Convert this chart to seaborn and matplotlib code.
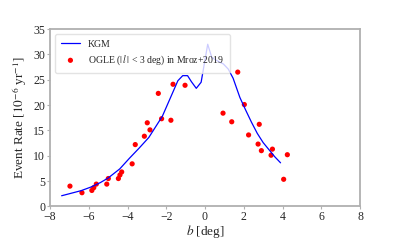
import matplotlib
matplotlib.use("Agg")
import matplotlib.pyplot as plt
import seaborn as sns
import pandas as pd

# KGM model curve
kgm_b = [-7.4, -6.9, -6.4, -5.9, -5.4, -5.0, -4.4, -3.9, -3.4, -2.9, -2.5, -2.2, -1.8,
         -1.4, -1.15, -0.9, -0.7, -0.45, -0.2, -0.05, 0.14, 0.35, 0.6, 0.95, 1.2, 1.45,
         1.8, 2.1, 2.4, 2.7, 3.0, 3.3, 3.6, 3.9]
kgm_rate = [2.1, 2.6, 3.1, 3.8, 4.7, 5.6, 7.4, 9.5, 11.5, 13.6, 16.0, 17.8, 21.3,
            24.8, 25.8, 25.8, 24.6, 23.3, 24.5, 27.8, 32.0, 29.4, 28.8, 28.1, 27.1, 25.3,
            21.5, 19.0, 16.6, 14.4, 12.6, 11.2, 9.8, 8.6]

# OGLE observations (Mroz+2019)
ogle_b = [-6.97, -6.35, -5.84, -5.74, -5.61, -5.07, -4.99, -4.47, -4.39, -4.30,
          -3.76, -3.60, -3.13, -2.98, -2.84, -2.41, -2.24, -1.76, -1.65, -1.03,
          0.93, 1.38, 1.69, 2.03, 2.25, 2.80, 2.74, 2.91, 3.48, 3.41, 4.25, 4.06]
ogle_rate = [4.0, 2.7, 3.15, 3.7, 4.4, 4.4, 5.5, 5.5, 6.2, 6.8,
             8.4, 12.2, 13.85, 16.5, 15.1, 22.3, 17.3, 17.0, 24.1, 23.9,
             18.4, 16.7, 26.5, 20.1, 14.1, 16.2, 12.3, 11.0, 11.3, 10.1, 10.2, 5.35]

x_ticks = [-8, -6, -4, -2, 0, 2, 4, 6, 8]
y_ticks = [0, 5, 10, 15, 20, 25, 30, 35]

sns.set_style("white")
plt.rcParams['font.family'] = ['Liberation Serif', 'DejaVu Serif']
plt.rcParams['mathtext.fontset'] = 'stix'

fig = plt.figure(figsize=(4.0, 2.4), dpi=100)
ax = fig.add_axes([0.125, 0.14, 0.775, 0.739])

kgm_df = pd.DataFrame({"b": kgm_b, "rate": kgm_rate})
ogle_df = pd.DataFrame({"b": ogle_b, "rate": ogle_rate})

sns.lineplot(data=kgm_df, x="b", y="rate", ax=ax, color="blue", linewidth=0.9,
             label="KGM", sort=False)
sns.scatterplot(data=ogle_df, x="b", y="rate", ax=ax, color="red", s=14,
                edgecolor="none", label="OGLE ($|\\,l\\,|$ < 3 deg) in Mroz+2019")

ax.set_xlim(-8, 8)
ax.set_ylim(0, 35)
ax.set_xticks(x_ticks)
ax.set_yticks(y_ticks)
ax.set_xlabel("$b$ [deg]", fontsize=9.5, labelpad=-0.5)
ax.set_ylabel("Event Rate [$10^{-6}$ yr$^{-1}$]", fontsize=9.5, labelpad=3)
ax.tick_params(axis="both", labelsize=8.5, length=2.5, width=0.8, color="#b0b0b0",
               pad=1.0, direction="out", bottom=True, left=True)
for sp in ax.spines.values():
    sp.set_color("#b0b0b0")
    sp.set_linewidth(1.3)

leg = ax.legend(loc="upper left", fontsize=7, frameon=True, framealpha=0.8,
                edgecolor="#dddddd", borderpad=0.6, handlelength=2.0)

fig.savefig("out.png", dpi=100)
